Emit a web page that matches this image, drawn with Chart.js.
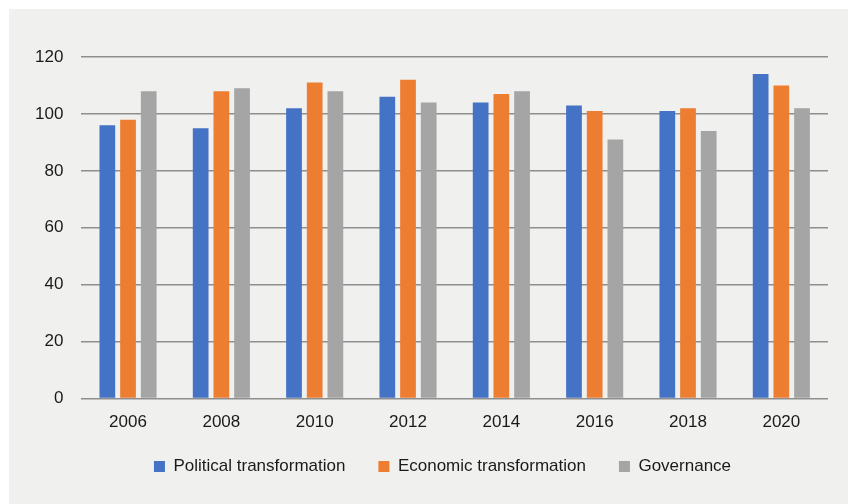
<!DOCTYPE html>
<html>
<head>
<meta charset="utf-8">
<script src="https://cdn.jsdelivr.net/npm/chart.js@4/dist/chart.umd.min.js"></script>
<style>
  html, body { margin: 0; padding: 0; background: #ffffff; overflow: hidden; }
  #wrap { position: absolute; left: 9px; top: 9px; width: 839px; height: 498px; background: #f0f0ef; }
</style>
</head>
<body>
<div id="wrap"><canvas id="myChart" width="839" height="498"></canvas></div>
<script>
const years = ['2006', '2008', '2010', '2012', '2014', '2016', '2018', '2020'];
const political = [96, 95, 102, 106, 104, 103, 101, 114];
const economic = [98, 108, 111, 112, 107, 101, 102, 110];
const governance = [108, 109, 108, 104, 108, 91, 94, 102];
const yTicks = [0, 20, 40, 60, 80, 100, 120];

const font = { family: "'Liberation Sans', Arial, sans-serif", size: 17 };

// nudge the legend a bit so it sits where the original has it
const legendNudge = {
  id: 'legendNudge',
  afterLayout(chart) {
    const lg = chart.legend;
    lg.left += 20; lg.right += 20;
    lg.top -= 22; lg.bottom -= 22;
  }
};

const data = {
  labels: years,
  datasets: [
    { label: 'Political transformation', data: political, backgroundColor: '#4472C4' },
    { label: 'Economic transformation', data: economic, backgroundColor: '#ED7D31' },
    { label: 'Governance', data: governance, backgroundColor: '#A5A5A5' }
  ]
};

const config = {
  type: 'bar',
  data: data,
  plugins: [legendNudge],
  options: {
    responsive: false,
    animation: false,
    devicePixelRatio: 1,
    categoryPercentage: 0.665,
    barPercentage: 0.76,
    layout: { padding: { left: 8, right: 20, top: 48, bottom: 0 } },
    plugins: {
      tooltip: { enabled: false },
      legend: {
        position: 'bottom',
        labels: {
          font: font,
          color: '#1a1a1a',
          boxWidth: 11,
          boxHeight: 11,
          padding: 33
        }
      }
    },
    scales: {
      x: {
        grid: { display: false, drawTicks: false },
        border: { display: false },
        ticks: { font: font, color: '#1a1a1a', padding: 14 }
      },
      y: {
        min: 0,
        max: 120,
        afterBuildTicks: (scale) => { scale.ticks = yTicks.map(v => ({ value: v })); },
        grid: { color: '#8e8e8e', lineWidth: 1.5, drawTicks: false },
        border: { display: false },
        ticks: { font: font, color: '#1a1a1a', padding: 18 }
      }
    }
  }
};

const myChart = new Chart(document.getElementById('myChart'), config);
</script>
</body>
</html>
